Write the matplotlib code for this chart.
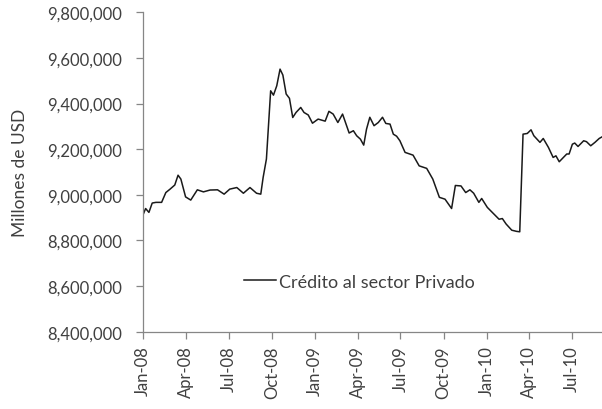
import matplotlib
matplotlib.use("Agg")
import matplotlib.pyplot as plt
import matplotlib.dates as mdates
import matplotlib.ticker as mticker
import numpy as np
import pandas as pd

plt.rcParams['font.family'] = ['Lato', 'DejaVu Sans']

# Crédito al sector privado (millones de USD)
fechas = [
    "2008-01-01", "2008-01-06", "2008-01-13", "2008-01-20", "2008-01-28", "2008-02-09",
    "2008-02-18", "2008-02-27", "2008-03-08", "2008-03-15", "2008-03-21", "2008-03-31",
    "2008-04-11", "2008-04-25", "2008-05-08", "2008-05-22", "2008-06-07", "2008-06-21",
    "2008-07-03", "2008-07-18", "2008-08-01", "2008-08-15", "2008-08-29", "2008-09-07",
    "2008-09-12", "2008-09-19", "2008-09-28", "2008-10-04", "2008-10-11", "2008-10-18",
    "2008-10-24", "2008-10-31", "2008-11-07", "2008-11-14", "2008-11-21", "2008-12-01",
    "2008-12-08", "2008-12-17", "2008-12-26", "2009-01-07", "2009-01-22", "2009-01-30",
    "2009-02-08", "2009-02-18", "2009-02-28", "2009-03-14", "2009-03-23", "2009-03-30",
    "2009-04-07", "2009-04-14", "2009-04-20", "2009-04-27", "2009-05-06", "2009-05-15",
    "2009-05-24", "2009-05-31", "2009-06-09", "2009-06-16", "2009-06-23", "2009-06-30",
    "2009-07-11", "2009-07-28", "2009-08-10", "2009-08-26", "2009-09-08", "2009-09-22",
    "2009-10-04", "2009-10-18", "2009-10-26", "2009-11-07", "2009-11-17", "2009-11-26",
    "2009-12-04", "2009-12-15", "2009-12-21", "2010-01-02", "2010-01-14", "2010-01-27",
    "2010-02-03", "2010-02-11", "2010-02-23", "2010-03-05", "2010-03-12", "2010-03-19",
    "2010-03-28", "2010-04-05", "2010-04-11", "2010-04-24", "2010-05-01", "2010-05-12",
    "2010-05-22", "2010-05-28", "2010-06-04", "2010-06-20", "2010-06-25", "2010-07-02",
    "2010-07-07", "2010-07-14", "2010-07-26", "2010-08-01", "2010-08-10", "2010-08-19",
    "2010-08-28", "2010-09-03",
]
credito = [
    8915000, 8940000, 8923000, 8964000, 8967000, 8967000,
    9010000, 9025000, 9043000, 9086000, 9069000, 8991000,
    8977000, 9022000, 9013000, 9021000, 9022000, 9003000,
    9025000, 9032000, 9007000, 9032000, 9007000, 9003000,
    9076000, 9157000, 9456000, 9437000, 9478000, 9551000,
    9525000, 9442000, 9423000, 9339000, 9361000, 9383000,
    9361000, 9350000, 9314000, 9332000, 9323000, 9366000,
    9354000, 9317000, 9354000, 9271000, 9281000, 9259000,
    9244000, 9218000, 9288000, 9340000, 9303000, 9317000,
    9340000, 9313000, 9310000, 9266000, 9257000, 9237000,
    9186000, 9174000, 9127000, 9116000, 9069000, 8989000,
    8981000, 8940000, 9041000, 9039000, 9010000, 9022000,
    9007000, 8967000, 8984000, 8945000, 8920000, 8893000,
    8896000, 8872000, 8845000, 8840000, 8838000, 9266000,
    9269000, 9285000, 9259000, 9230000, 9247000, 9208000,
    9164000, 9171000, 9145000, 9179000, 9179000, 9222000,
    9227000, 9212000, 9237000, 9233000, 9215000, 9230000,
    9247000, 9254000,
]

fechas = pd.to_datetime(fechas)

fig = plt.figure(figsize=(6.02, 4.10), dpi=100)
ax = fig.add_axes([0.238, 0.1885, 0.762, 0.779])

ax.plot(fechas, credito, color='#1a1a1a', lw=1.1, label='Crédito al sector Privado')

ax.set_xlim(pd.Timestamp("2008-01-01"), pd.Timestamp("2010-09-03"))
ax.set_ylim(8400000, 9800000)
ax.yaxis.set_major_locator(mticker.MultipleLocator(200000))
ax.yaxis.set_major_formatter(mticker.FuncFormatter(lambda v, p: f"{v:,.0f}"))
ax.xaxis.set_major_locator(mdates.MonthLocator(bymonth=[1, 4, 7, 10]))
ax.xaxis.set_major_formatter(mdates.DateFormatter('%b-%y'))

for s in ['top', 'right']:
    ax.spines[s].set_visible(False)
for s in ['left', 'bottom']:
    ax.spines[s].set_color('#868686')
    ax.spines[s].set_linewidth(0.9)

ax.tick_params(axis='both', colors='#868686', length=5, width=0.9, direction='out')
ax.tick_params(axis='both', labelcolor='#404040', labelsize=12)
ax.tick_params(axis='y', pad=10)
ax.tick_params(axis='x', labelrotation=90, pad=5)

ax.set_ylabel('Millones de USD', fontsize=12.5, color='#404040')
ax.yaxis.set_label_coords(-0.252, 0.5)

ax.legend(loc='center left', bbox_to_anchor=(0.184, 0.157), frameon=False,
          fontsize=13, handlelength=1.75, handletextpad=0.2, labelcolor='#404040')

fig.savefig('out.png', dpi=100)
